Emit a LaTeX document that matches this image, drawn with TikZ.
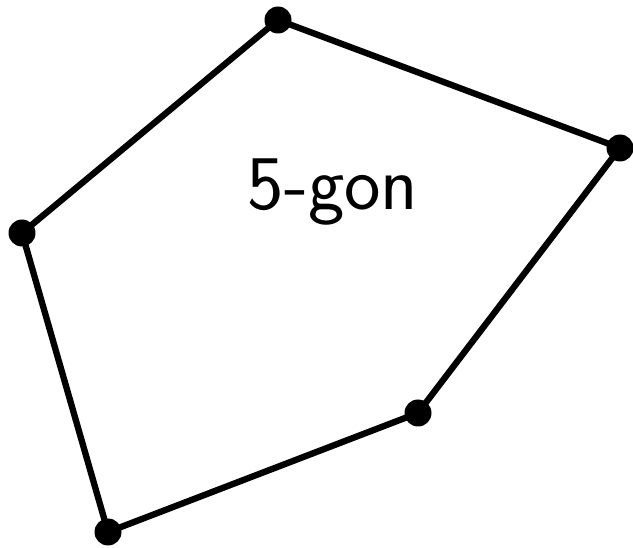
\documentclass[tikz,border=0pt]{standalone}
\usetikzlibrary{positioning}

\begin{document}
\begin{tikzpicture}[
            vertex/.style={circle, fill=black, inner sep=0pt, minimum size=0.54cm},
            edge/.style={line width=3.6pt, line join=round},
            label/.style={font=\sffamily\fontsize{44}{52}\selectfont}
        ]
            \useasboundingbox (0,0) rectangle (12.66,10.96);

            % --- vertices ---
            \node[vertex] (v1) at (5.56,10.56) {};
            \node[vertex] (v2) at (12.40,8.00) {};
            \node[vertex] (v3) at (8.36,2.70) {};
            \node[vertex] (v4) at (2.16,0.32) {};
            \node[vertex] (v5) at (0.44,6.30) {};

            % --- edges ---
            \draw[edge] (v1.center) -- (v2.center) -- (v3.center) -- (v4.center) -- (v5.center) -- cycle;

            \node[label] (name) at (6.66,7.12) {5-gon};
        \end{tikzpicture}
\end{document}
